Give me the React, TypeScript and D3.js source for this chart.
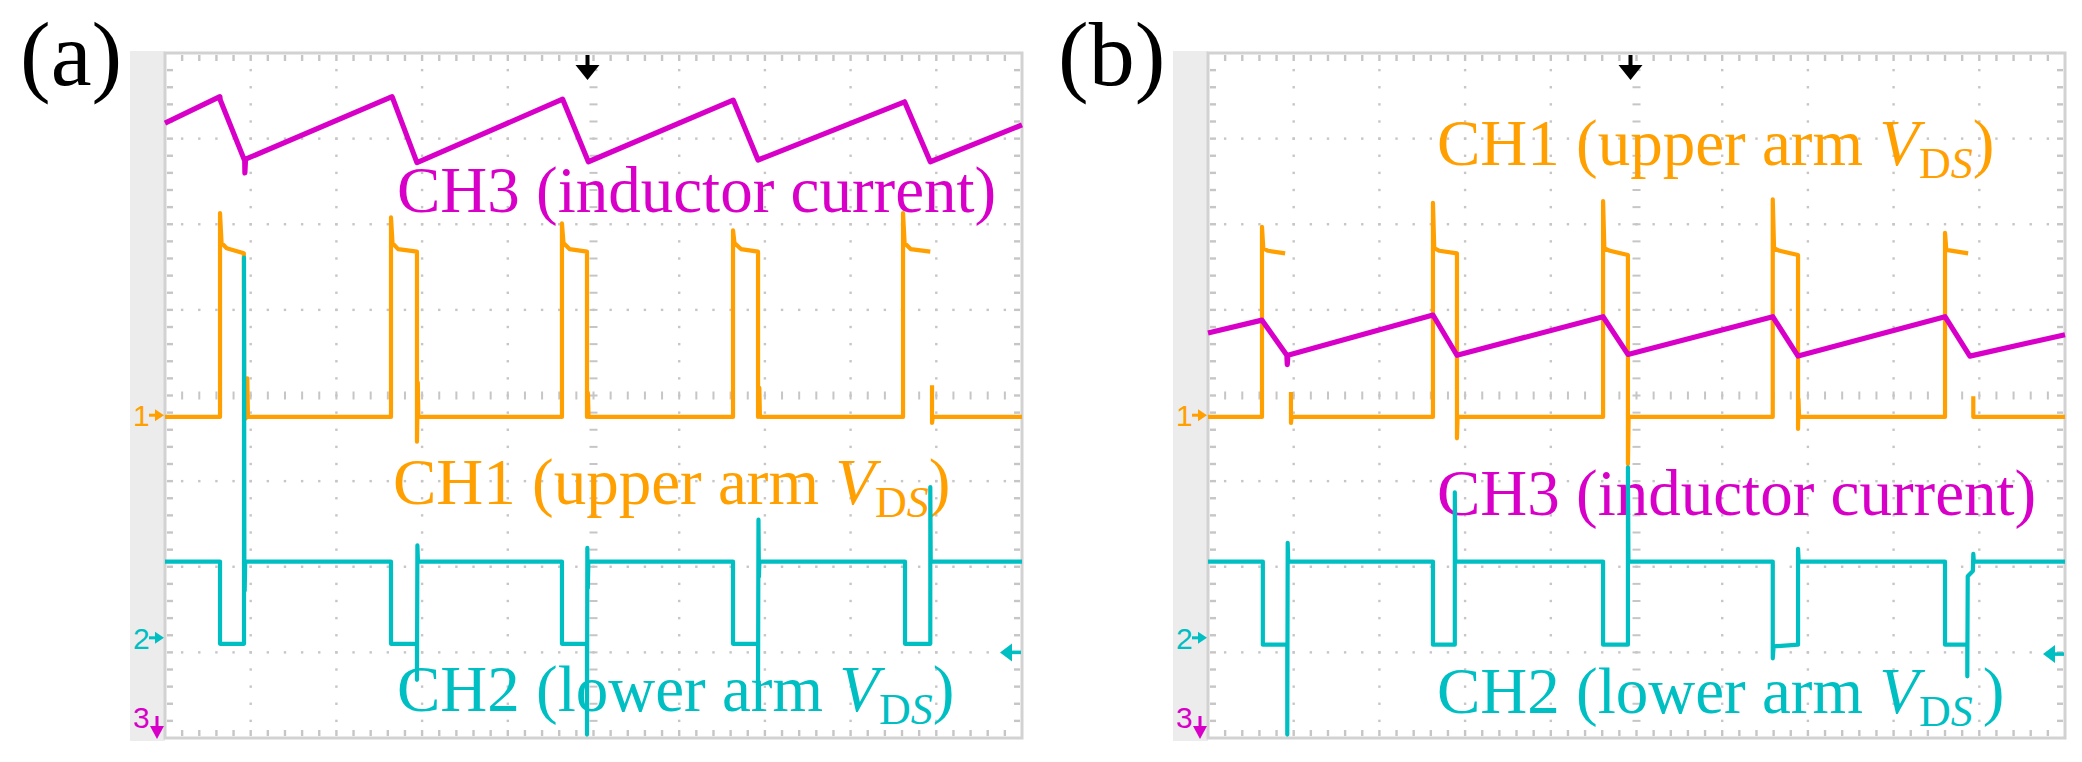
import * as d3 from 'd3';

type Pt = [number, number];
const GAP: Pt = [NaN, NaN];

// Every trace point is [time in divisions (0-10), level in divisions above the bottom graticule line (0-8)]
const panelLabels = ['(a)', '(b)'];
const channelNames = ['CH1', 'CH2', 'CH3'];
const channelDesc = ['upper arm', 'lower arm', 'inductor current'];

// panel (a)
const ch1A: Pt[] = [
  [0, 3.75], [0.642, 3.75], [0.642, 6.13], [0.66, 5.78], [0.72, 5.72], [0.92, 5.66], [0.925, 3.72], [0.96, 3.75], [0.96, 4.2], [0.968, 3.75],
  [2.637, 3.75], [2.637, 6.08], [2.655, 5.78], [2.72, 5.71], [2.94, 5.68], [2.94, 3.46], [2.95, 4.15], [2.956, 3.75],
  [4.632, 3.75], [4.632, 6.01], [4.65, 5.78], [4.72, 5.71], [4.924, 5.68], [4.924, 3.75], [4.935, 4.03], [4.942, 3.75],
  [6.628, 3.75], [6.628, 5.93], [6.645, 5.78], [6.72, 5.71], [6.92, 5.68], [6.92, 3.75], [6.935, 4.09], [6.942, 3.75],
  [8.612, 3.75], [8.612, 6.13], [8.63, 5.78], [8.7, 5.71], [8.93, 5.68], GAP,
  [8.95, 4.12], [8.95, 3.68], [8.96, 3.75], [10, 3.75],
];
const ch2A: Pt[] = [
  [0, 2.06], [0.642, 2.06], [0.642, 1.1], [0.922, 1.1], [0.922, 5.61], [0.926, 2.06], [0.93, 1.72], [0.936, 2.06],
  [2.637, 2.06], [2.637, 1.1], [2.94, 1.1], [2.94, 0.68], [2.945, 2.25], [2.952, 2.06],
  [4.632, 2.06], [4.632, 1.1], [4.924, 1.1], [4.924, 0.04], [4.928, 2.22], [4.934, 1.75], [4.94, 2.06],
  [6.628, 2.06], [6.628, 1.1], [6.92, 1.1], [6.92, 0.62], [6.925, 2.55], [6.93, 1.88], [6.936, 2.06],
  [8.635, 2.06], [8.635, 1.1], [8.93, 1.1], [8.93, 2.93], [8.935, 2.06], [10, 2.06],
];
const ch3A: Pt[] = [
  [0, 7.18], [0.64, 7.49], [0.645, 7.45], [0.93, 6.74], [0.932, 6.6], [0.94, 6.76],
  [2.65, 7.49], [2.94, 6.72], [4.64, 7.46], [4.94, 6.73], [6.63, 7.45], [6.92, 6.75], [8.63, 7.43], [8.93, 6.73], [10, 7.16],
];

// panel (b)
const ch1B: Pt[] = [
  [0, 3.75], [0.63, 3.75], [0.63, 5.97], [0.645, 5.72], [0.7, 5.69], [0.9, 5.66], GAP,
  [0.968, 4.04], [0.968, 3.68], [0.976, 3.75],
  [2.625, 3.75], [2.625, 6.25], [2.64, 5.72], [2.7, 5.69], [2.905, 5.66], [2.905, 3.5], [2.912, 3.75],
  [4.61, 3.75], [4.61, 6.27], [4.625, 5.72], [4.69, 5.69], [4.9, 5.64], [4.9, 3.2], [4.908, 3.75],
  [6.59, 3.75], [6.59, 6.29], [6.605, 5.72], [6.67, 5.69], [6.885, 5.64], [6.885, 3.61], [6.89, 3.96], [6.897, 3.75],
  [8.6, 3.75], [8.6, 5.9], [8.615, 5.7], [8.87, 5.66], GAP,
  [8.93, 3.99], [8.93, 3.75], [10, 3.75],
];
const ch2B: Pt[] = [
  [0, 2.06], [0.64, 2.06], [0.64, 1.09], [0.925, 1.09], [0.925, 0.04], [0.93, 2.28], [0.936, 2.06],
  [2.625, 2.06], [2.625, 1.09], [2.88, 1.09], [2.88, 2.87], [2.886, 2.06],
  [4.61, 2.06], [4.61, 1.09], [4.9, 1.09], [4.9, 3.16], [4.906, 2.06],
  [6.59, 2.06], [6.59, 0.93], [6.6, 1.07], [6.885, 1.09], [6.885, 2.21], [6.892, 2.06],
  [8.6, 2.06], [8.6, 1.09], [8.86, 1.09], [8.86, 0.72], [8.865, 1.89], [8.925, 1.95], [8.93, 2.15], [8.936, 2.06], [10, 2.06],
];
const ch3B: Pt[] = [
  [0, 4.73], [0.63, 4.88], [0.92, 4.47], [0.925, 4.36], [0.932, 4.47],
  [2.625, 4.94], [2.905, 4.47], [4.61, 4.92], [4.9, 4.48], [6.59, 4.92], [6.885, 4.46], [8.6, 4.92], [8.89, 4.46], [10, 4.71],
];

const groundLevels = [3.77, 1.17]; // CH1, CH2 reference markers on the left
const triggerLevels = [1.0, 0.98]; // (a), (b) cyan marker on the right
const triggerTime = 4.93;

const W = 2082;
const H = 762;
const PLOT_W = 857;
const PLOT_TOP = 53;
const PLOT_H = 685;
const ORANGE = '#ffa000';
const MAGENTA = '#d800c8';
const CYAN = '#00bfc3';
const SERIF = '"Liberation Serif", "Times New Roman", serif';
const SANS = '"Liberation Sans", Arial, sans-serif';

const panels = [
  {
    left: 165, labelX: 20, traces: [ch1A, ch2A, ch3A], trig: triggerLevels[0],
    names: [[228, 504, 0], [232, 711, 0], [232, 212, 0]],
  },
  {
    left: 1208, labelX: 1058, traces: [ch1B, ch2B, ch3B], trig: triggerLevels[1],
    names: [[229, 165, 0], [229, 713, 10], [229, 515, 0]],
  },
];

function ChannelName({ x, y, color, idx, gap }: { x: number; y: number; color: string; idx: number; gap: number }) {
  const vds = idx < 2;
  return (
    <text x={x} y={y} fill={color} fontFamily={SERIF} fontSize={65} style={{ whiteSpace: 'pre' }}>
      <tspan>{`${channelNames[idx]} (${channelDesc[idx]}${vds ? ' ' : ''}`}</tspan>
      {vds && (
        <>
          <tspan fontStyle="italic">V</tspan>
          <tspan fontSize={44} dy={13}>D</tspan>
          <tspan fontSize={44} fontStyle="italic">S</tspan>
        </>
      )}
      <tspan dy={vds ? -13 : 0} dx={gap}>)</tspan>
    </text>
  );
}

function Panel({ p, label }: { p: typeof panels[0]; label: string }) {
  const x = d3.scaleLinear().domain([0, 10]).range([p.left, p.left + PLOT_W]);
  const y = d3.scaleLinear().domain([0, 8]).range([PLOT_TOP + PLOT_H, PLOT_TOP]);
  const line = d3.line<Pt>()
    .defined(d => !isNaN(d[0]))
    .x(d => x(d[0]))
    .y(d => y(d[1]));

  const subX = d3.range(1, 50).map(k => k / 5);
  const subY = d3.range(1, 40).map(k => k / 5);
  const grid = '#c6c6c6';
  const colors = [ORANGE, CYAN, MAGENTA];
  const bottom = y(0);
  const right = x(10);

  return (
    <g>
      <text x={p.labelX} y={85} fontFamily={SERIF} fontSize={92} fill="#000">{label}</text>
      {/* side strip and frame */}
      <rect x={p.left - 35} y={PLOT_TOP - 2} width={35} height={PLOT_H + 5} fill="#ececec" />
      <rect x={p.left} y={PLOT_TOP} width={PLOT_W} height={PLOT_H} fill="#fff" stroke="#d2d2d2" strokeWidth={3} />

      {/* dotted graticule */}
      {d3.range(1, 10).filter(i => i !== 5).map(i =>
        subY.map(v => <rect key={`v${i}-${v}`} x={x(i) - 1.2} y={y(v) - 1.2} width={2.4} height={2.4} fill={grid} />))}
      {d3.range(1, 8).filter(j => j !== 4).map(j =>
        subX.map(t => <rect key={`h${j}-${t}`} x={x(t) - 1.2} y={y(j) - 1.2} width={2.4} height={2.4} fill={grid} />))}
      {subY.map(v => <rect key={`cv${v}`} x={x(5) - 4} y={y(v) - 1} width={8} height={2} fill={grid} />)}
      {subX.map(t => <rect key={`ch${t}`} x={x(t) - 1} y={y(4) - 4} width={2} height={8} fill={grid} />)}
      {/* border ticks */}
      {subX.map(t => <rect key={`tt${t}`} x={x(t) - 1.2} y={PLOT_TOP + 2} width={2.4} height={6} fill={grid} />)}
      {subX.map(t => <rect key={`tb${t}`} x={x(t) - 1.2} y={bottom - 8} width={2.4} height={6} fill={grid} />)}
      {subY.map(v => <rect key={`tl${v}`} x={p.left + 2} y={y(v) - 1.2} width={6} height={2.4} fill={grid} />)}
      {subY.map(v => <rect key={`tr${v}`} x={right - 8} y={y(v) - 1.2} width={6} height={2.4} fill={grid} />)}

      {/* channel reference markers */}
      {groundLevels.map((g, i) => (
        <g key={`g${i}`} fill={colors[i]}>
          <text x={p.left - 32} y={y(g) + 11} fontFamily={SANS} fontSize={30}>{i + 1}</text>
          <rect x={p.left - 16} y={y(g) - 1.5} width={8} height={3} />
          <path d={`M${p.left - 1},${y(g)} L${p.left - 10},${y(g) - 6} L${p.left - 10},${y(g) + 6} Z`} />
        </g>
      ))}
      <g fill={MAGENTA}>
        <text x={p.left - 32} y={bottom - 10} fontFamily={SANS} fontSize={30}>3</text>
        <rect x={p.left - 9.5} y={bottom - 22} width={3} height={10} />
        <path d={`M${p.left - 8},${bottom + 1} L${p.left - 15},${bottom - 12} L${p.left - 1},${bottom - 12} Z`} />
      </g>
      {/* trigger level (right) */}
      <g fill={CYAN}>
        <path d={`M${right - 22},${y(p.trig)} L${right - 10},${y(p.trig) - 9} L${right - 10},${y(p.trig) + 9} Z`} />
        <rect x={right - 11} y={y(p.trig) - 1.8} width={10} height={3.6} />
      </g>
      {/* trigger position (top) */}
      <g fill="#000">
        <rect x={x(triggerTime) - 2} y={PLOT_TOP + 2} width={4} height={12} />
        <path d={`M${x(triggerTime) - 12},${PLOT_TOP + 12} L${x(triggerTime) + 12},${PLOT_TOP + 12} L${x(triggerTime)},${PLOT_TOP + 27} Z`} />
      </g>

      {/* channel names */}
      {p.names.map(([dx, ny, gap], i) => (
        <ChannelName key={`n${i}`} x={p.left + dx} y={ny} color={colors[i]} idx={i} gap={gap} />
      ))}

      {/* traces: CH1, CH3, then CH2 on top */}
      <path d={line(p.traces[0]) ?? ''} fill="none" stroke={ORANGE} strokeWidth={4.2} strokeLinejoin="round" />
      <path d={line(p.traces[2]) ?? ''} fill="none" stroke={MAGENTA} strokeWidth={5.2} strokeLinejoin="round" />
      <path d={line(p.traces[1]) ?? ''} fill="none" stroke={CYAN} strokeWidth={4.2} strokeLinejoin="round" />
    </g>
  );
}

export default function App() {
  return (
    <>
      <style>{'body{margin:0}'}</style>
      <svg width={W} height={H} viewBox={`0 0 ${W} ${H}`} style={{ display: 'block', background: '#fff' }}>
        <rect width={W} height={H} fill="#fff" />
        {panels.map((p, i) => <Panel key={i} p={p} label={panelLabels[i]} />)}
      </svg>
    </>
  );
}
